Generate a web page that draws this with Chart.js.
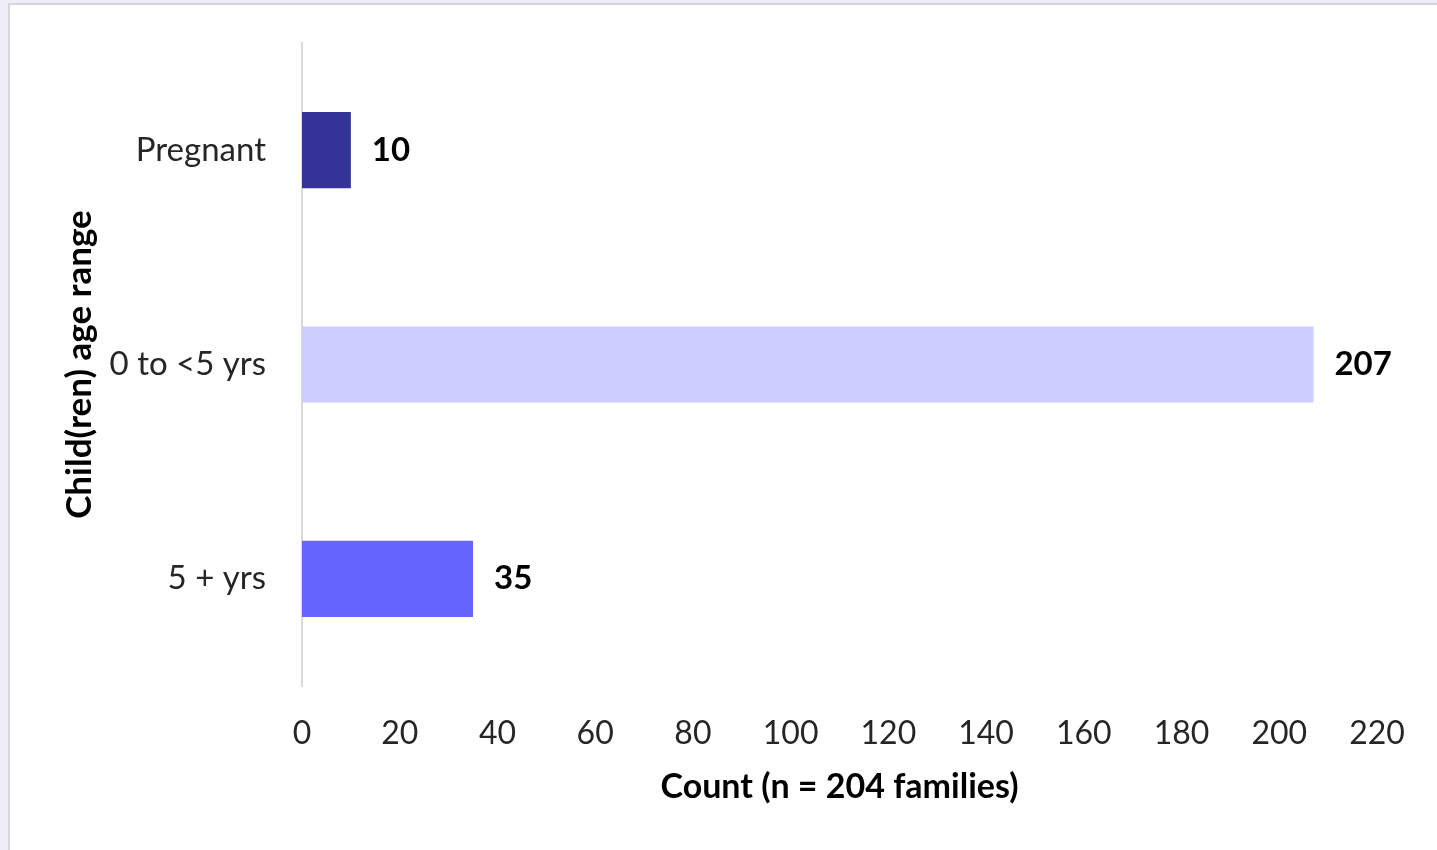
<!DOCTYPE html>
<html>
<head>
<meta charset="utf-8">
<script src="https://cdn.jsdelivr.net/npm/chart.js@4"></script>
<style>
  html, body { margin: 0; padding: 0; width: 1437px; height: 850px; overflow: hidden; background: #efedf7; }
  #card { position: absolute; left: 8px; top: 3px; width: 1500px; height: 900px; background: #ffffff; border: 2px solid #d6d6da; }
  #chart { position: absolute; left: 0; top: 0; }
</style>
</head>
<body>
<div id="card"></div>
<canvas id="chart" width="1437" height="850"></canvas>
<script>
// Age ranges of the children in each family and how many fall in each
const categories = ['Pregnant', '0 to <5 yrs', '5 + yrs'];
const counts = [10, 207, 35];
const barColors = ['#333399', '#ccccff', '#6666ff'];
const xTitle = 'Count (n = 204 families)';
const yTitle = 'Child(ren) age range';

const FONT = 'Lato, "Open Sans", sans-serif';
const TEXT = '#262626';

// Writes each bar's value just past its end
const valueLabels = {
  id: 'valueLabels',
  afterDatasetsDraw(chart) {
    const ctx = chart.ctx;
    const meta = chart.getDatasetMeta(0);
    ctx.save();
    ctx.font = 'bold 33px ' + FONT;
    ctx.fillStyle = '#000000';
    ctx.textAlign = 'left';
    ctx.textBaseline = 'middle';
    meta.data.forEach((bar, i) => {
      ctx.fillText(String(chart.data.datasets[0].data[i]), bar.x + 21, bar.y);
    });
    ctx.restore();
  }
};

new Chart(document.getElementById('chart'), {
  type: 'bar',
  data: {
    labels: categories,
    datasets: [{
      data: counts,
      backgroundColor: barColors,
      borderWidth: 0,
      categoryPercentage: 1,
      barPercentage: 0.355
    }]
  },
  options: {
    indexAxis: 'y',
    responsive: false,
    devicePixelRatio: 1,
    animation: false,
    layout: { padding: { top: 43, right: 60, bottom: 0, left: 0 } },
    plugins: { legend: { display: false }, tooltip: { enabled: false } },
    scales: {
      x: {
        min: 0,
        max: 220,
        ticks: { stepSize: 20, padding: 28, color: TEXT, font: { family: FONT, size: 32 } },
        grid: { display: false, drawTicks: false },
        border: { display: false },
        title: {
          display: true,
          text: xTitle,
          color: '#000000',
          padding: { top: 0, bottom: 43 },
          font: { family: FONT, size: 34, weight: 'bold' }
        },
        afterFit(scale) { scale.height = 164; }
      },
      y: {
        ticks: { padding: 36, color: TEXT, font: { family: FONT, size: 33 } },
        grid: { display: false, drawTicks: false },
        border: { display: true, color: '#d9d9d9', width: 2 },
        title: {
          display: true,
          text: yTitle,
          color: '#000000',
          padding: { top: 59, bottom: 0 },
          font: { family: FONT, size: 35, weight: 'bold' }
        },
        afterFit(scale) {
          scale.width = 302;
          scale.paddingTop = 0;
          scale.paddingBottom = 0;
        }
      }
    }
  },
  plugins: [valueLabels]
});
</script>
</body>
</html>
